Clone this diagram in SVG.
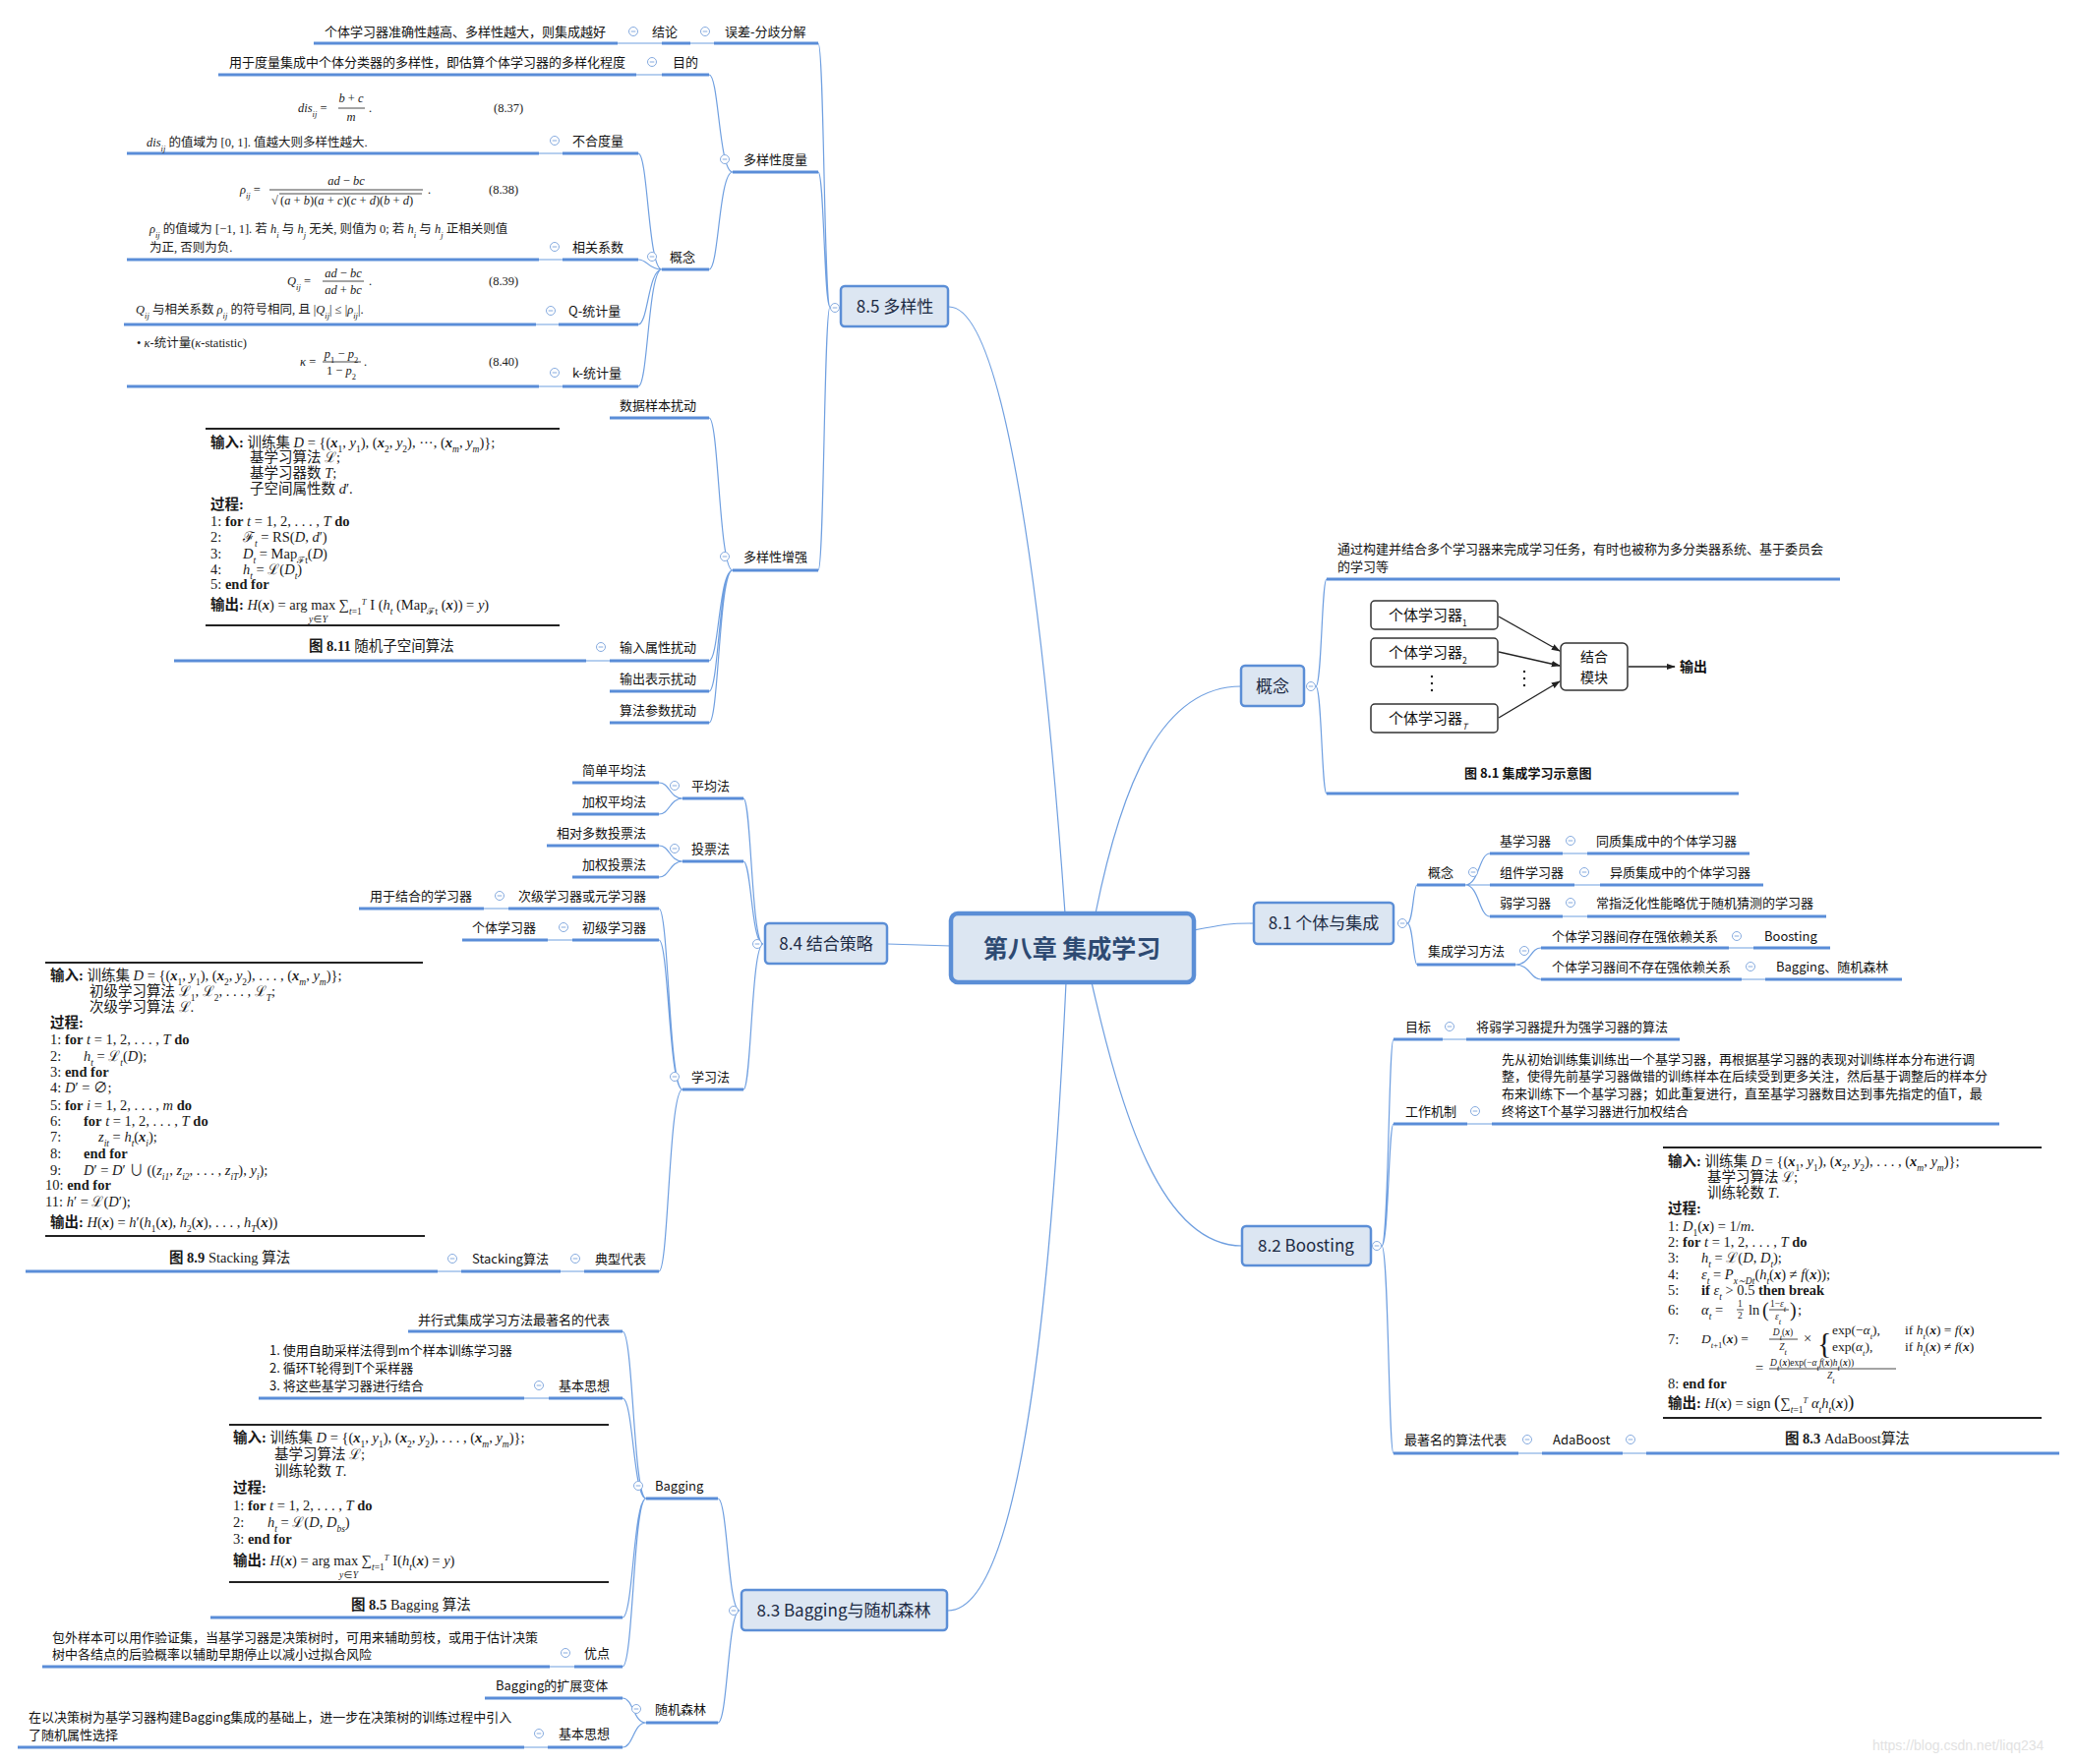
<svg xmlns="http://www.w3.org/2000/svg" xmlns:xlink="http://www.w3.org/1999/xlink" width="2111" height="1794" viewBox="0 0 2111 1794">
<style>
.lbl{font-family:"Noto Sans CJK SC","Noto Sans",sans-serif;font-size:13px;fill:#111}
.main{font-family:"Noto Sans CJK SC","Noto Sans",sans-serif;font-size:17px;fill:#1d2b44;text-anchor:middle}
.root{font-family:"Noto Sans CJK SC",sans-serif;font-size:25px;font-weight:bold;fill:#2e4a72;text-anchor:middle}
.box{fill:#dce6f2;stroke:#5b8ed6;stroke-width:2.5}
.ul{stroke:#5a8dd8;stroke-width:3;fill:none}
.cn{stroke:#6f9fe0;stroke-width:1.2;fill:none}
.m{font-family:"Liberation Serif","Noto Sans CJK SC",serif;font-size:12.5px;fill:#1a1a1a}
.a{font-size:14.5px}
.sm{font-size:9.5px}
.i{font-style:italic}
.b{font-weight:bold}
.s{font-size:8.5px;baseline-shift:sub}
.a .s{font-size:9.5px}
.sp{font-size:8.5px;baseline-shift:super}
.rule{stroke:#222;stroke-width:2}
.bar{stroke:#1a1a1a;stroke-width:0.8}
.fig{font-family:"Noto Sans CJK SC",serif;fill:#111}
.fb{fill:#fff;stroke:#333;stroke-width:1.5}
.ar{stroke:#222;stroke-width:1.3;fill:none;marker-end:url(#arr)}
.wm{font-family:"Liberation Sans",sans-serif;font-size:14px;fill:#e2e2e2}
</style>
<defs>
<g id="mk"><circle r="4.5" fill="#fff" stroke="#86abdf" stroke-width="1"/><path d="M-2.3,0H2.3" stroke="#86abdf" stroke-width="1"/></g>
<marker id="arr" viewBox="0 0 10 10" refX="9" refY="5" markerWidth="7" markerHeight="7" orient="auto"><path d="M0,1.5L10,5L0,8.5z" fill="#222"/></marker>
</defs>
<rect width="2111" height="1794" fill="#fff"/>

<g id="connectors">
<path class="cn" d="M1083,929 C1060,600 1020,312 965,312"/>
<path class="cn" d="M967,962 L902,960"/>
<path class="cn" d="M1214,946 C1245,940 1250,939 1275,939"/>
<path class="cn" d="M1114,929 C1140,800 1180,698 1262,698"/>
<path class="cn" d="M1110,999 C1140,1130 1180,1267 1263,1267"/>
<path class="cn" d="M1084,999 C1070,1300 1040,1638 964,1638"/>
<path class="cn" d="M844,312 C838,312 838,44 832,44 M844,312 C838,312 838,175 832,175 M844,312 C838,312 838,580 832,580"/>
<path class="cn" d="M726,44 H702 M673,44 H628"/>
<path class="cn" d="M745,175 C731,175 731,76 721,76 M745,175 C731,175 731,274 721,274 M673,76 H647"/>
<path class="cn" d="M673,274 C659,274 659,156 649,156 M673,274 C659,274 659,264 649,264 M673,274 C659,274 659,330 649,330 M673,274 C659,274 659,393 649,393"/>
<path class="cn" d="M572,156 H548 M572,264 H548 M568,330 H545 M572,393 H548"/>
<path class="cn" d="M745,580 C731,580 731,425 721,425 M745,580 C731,580 731,672 721,672 M745,580 C731,580 731,703 721,703 M745,580 C731,580 731,735 721,735 M620,672 H596"/>
<path class="cn" d="M776,960 C764,960 764,812 756,812 M776,960 C764,960 764,876 756,876 M776,960 C764,960 764,1108 756,1108"/>
<path class="cn" d="M694,812 C681,812 681,796 670,796 M694,812 C681,812 681,828 670,828 M694,876 C681,876 681,860 670,860 M694,876 C681,876 681,892 670,892"/>
<path class="cn" d="M694,1108 C680,1108 680,924 670,924 M694,1108 C680,1108 680,956 670,956 M694,1108 C680,1108 680,1293 670,1293"/>
<path class="cn" d="M517,924 H492 M582,956 H557 M594,1293 H570 M469,1293 H445"/>
<path class="cn" d="M752,1638 C740,1638 740,1524 730,1524 M752,1638 C740,1638 740,1752 730,1752"/>
<path class="cn" d="M657,1524 C644,1524 644,1354 633,1354 M657,1524 C644,1524 644,1422 633,1422 M657,1524 C644,1524 644,1645 633,1645 M657,1524 C644,1524 644,1695 633,1695 M558,1422 H533 M584,1695 H559"/>
<path class="cn" d="M657,1752 C644,1752 644,1727 633,1727 M657,1752 C644,1752 644,1777 633,1777 M557,1777 H533"/>
<path class="cn" d="M1338,698 C1344,698 1344,589 1349,589 M1338,698 C1344,698 1344,807 1349,807"/>
<path class="cn" d="M1431,939 C1437,939 1437,900 1441,900 M1431,939 C1437,939 1437,981 1441,981"/>
<path class="cn" d="M1490,900 C1504,900 1504,868 1515,868 M1490,900 H1515 M1490,900 C1504,900 1504,932 1515,932 M1589,868 H1614 M1601,900 H1627 M1589,932 H1614"/>
<path class="cn" d="M1541,981 C1556,981 1556,964 1567,964 M1541,981 C1556,981 1556,996 1567,996 M1758,964 H1783 M1771,996 H1795"/>
<path class="cn" d="M1405,1267 C1412,1267 1412,1057 1417,1057 M1405,1267 C1412,1267 1412,1143 1417,1143 M1405,1267 C1412,1267 1412,1478 1417,1478"/>
<path class="cn" d="M1467,1057 H1491 M1492,1143 H1517 M1544,1478 H1568 M1650,1478 H1674"/>
</g>

<g id="root">
<rect x="967" y="929" width="247" height="70" rx="7" fill="#dce6f2" stroke="#5b8ed6" stroke-width="4.5"/>
<text class="root" x="1090" y="974">第八章 集成学习</text>
</g>

<!-- 8.5 -->
<g id="n85">
<rect class="box" x="855" y="291" width="109" height="41" rx="4"/>
<text class="main" x="910" y="318">8.5 多样性</text>
<use xlink:href="#mk" x="849" y="313"/>
</g>
<g id="n85-conclusion">
<line class="ul" x1="726" y1="44" x2="832" y2="44"/><text class="lbl" x="737" y="37">误差-分歧分解</text><use xlink:href="#mk" x="717" y="32"/>
<line class="ul" x1="673" y1="44" x2="702" y2="44"/><text class="lbl" x="663" y="37">结论</text><use xlink:href="#mk" x="644" y="32"/>
<line class="ul" x1="319" y1="44" x2="628" y2="44"/><text class="lbl" x="330" y="37">个体学习器准确性越高、多样性越大，则集成越好</text>
</g>
<g id="n85-measure">
<line class="ul" x1="745" y1="175" x2="832" y2="175"/><text class="lbl" x="756" y="167">多样性度量</text><use xlink:href="#mk" x="737" y="162"/>
<line class="ul" x1="673" y1="76" x2="721" y2="76"/><text class="lbl" x="684" y="68">目的</text><use xlink:href="#mk" x="663" y="63"/>
<line class="ul" x1="222" y1="76" x2="647" y2="76"/><text class="lbl" x="233" y="68">用于度量集成中个体分类器的多样性，即估算个体学习器的多样化程度</text>
<line class="ul" x1="673" y1="274" x2="721" y2="274"/><text class="lbl" x="681" y="266">概念</text><use xlink:href="#mk" x="663" y="261"/>
</g>
<g id="n85-dis">
<line class="ul" x1="572" y1="156" x2="649" y2="156"/><text class="lbl" x="582" y="148">不合度量</text><use xlink:href="#mk" x="564" y="143"/>
<line class="ul" x1="129" y1="156" x2="548" y2="156"/>
<text class="m" x="303" y="114"><tspan class="i">dis</tspan><tspan class="s i">ij</tspan> =</text>
<text class="m" x="357" y="104" text-anchor="middle"><tspan class="i">b</tspan> + <tspan class="i">c</tspan></text>
<line class="bar" x1="344" y1="110" x2="371" y2="110"/>
<text class="m i" x="357" y="123" text-anchor="middle">m</text>
<text class="m" x="375" y="114">.</text>
<text class="m" x="502" y="114">(8.37)</text>
<text class="m" x="149" y="149"><tspan class="i">dis</tspan><tspan class="s i">ij</tspan> 的值域为 [0, 1]. 值越大则多样性越大.</text>
</g>
<g id="n85-rho">
<line class="ul" x1="572" y1="264" x2="649" y2="264"/><text class="lbl" x="582" y="256">相关系数</text><use xlink:href="#mk" x="564" y="251"/>
<line class="ul" x1="129" y1="264" x2="548" y2="264"/>
<text class="m" x="244" y="197"><tspan class="i">ρ</tspan><tspan class="s i">ij</tspan> =</text>
<text class="m" x="352" y="188" text-anchor="middle"><tspan class="i">ad</tspan> − <tspan class="i">bc</tspan></text>
<line class="bar" x1="274" y1="193" x2="430" y2="193"/>
<text class="m" x="276" y="208">√</text>
<line class="bar" x1="284" y1="197" x2="429" y2="197"/>
<text class="m" x="285" y="208">(<tspan class="i">a</tspan> + <tspan class="i">b</tspan>)(<tspan class="i">a</tspan> + <tspan class="i">c</tspan>)(<tspan class="i">c</tspan> + <tspan class="i">d</tspan>)(<tspan class="i">b</tspan> + <tspan class="i">d</tspan>)</text>
<text class="m" x="435" y="197">.</text>
<text class="m" x="497" y="197">(8.38)</text>
<text class="m" x="152" y="237"><tspan class="i">ρ</tspan><tspan class="s i">ij</tspan> 的值域为 [−1, 1]. 若 <tspan class="i">h</tspan><tspan class="s i">i</tspan> 与 <tspan class="i">h</tspan><tspan class="s i">j</tspan> 无关, 则值为 0; 若 <tspan class="i">h</tspan><tspan class="s i">i</tspan> 与 <tspan class="i">h</tspan><tspan class="s i">j</tspan> 正相关则值</text>
<text class="m" x="152" y="256">为正, 否则为负.</text>
</g>
<g id="n85-q">
<line class="ul" x1="568" y1="330" x2="649" y2="330"/><text class="lbl" x="578" y="321">Q-统计量</text><use xlink:href="#mk" x="560" y="316"/>
<line class="ul" x1="126" y1="330" x2="545" y2="330"/>
<text class="m" x="292" y="290"><tspan class="i">Q</tspan><tspan class="s i">ij</tspan> =</text>
<text class="m" x="349" y="282" text-anchor="middle"><tspan class="i">ad</tspan> − <tspan class="i">bc</tspan></text>
<line class="bar" x1="328" y1="286" x2="370" y2="286"/>
<text class="m" x="349" y="299" text-anchor="middle"><tspan class="i">ad</tspan> + <tspan class="i">bc</tspan></text>
<text class="m" x="375" y="290">.</text>
<text class="m" x="497" y="290">(8.39)</text>
<text class="m" x="138" y="319"><tspan class="i">Q</tspan><tspan class="s i">ij</tspan> 与相关系数 <tspan class="i">ρ</tspan><tspan class="s i">ij</tspan> 的符号相同, 且 |<tspan class="i">Q</tspan><tspan class="s i">ij</tspan>| ≤ |<tspan class="i">ρ</tspan><tspan class="s i">ij</tspan>|.</text>
</g>
<g id="n85-k">
<line class="ul" x1="572" y1="393" x2="649" y2="393"/><text class="lbl" x="582" y="384">k-统计量</text><use xlink:href="#mk" x="564" y="379"/>
<line class="ul" x1="129" y1="393" x2="548" y2="393"/>
<text class="m" x="139" y="353">• <tspan class="i">κ</tspan>-统计量(<tspan class="i">κ</tspan>-statistic)</text>
<text class="m" x="305" y="372"><tspan class="i">κ</tspan> =</text>
<text class="m" x="347" y="364" text-anchor="middle"><tspan class="i">p</tspan><tspan class="s">1</tspan> − <tspan class="i">p</tspan><tspan class="s">2</tspan></text>
<line class="bar" x1="328" y1="368" x2="367" y2="368"/>
<text class="m" x="347" y="381" text-anchor="middle">1 − <tspan class="i">p</tspan><tspan class="s">2</tspan></text>
<text class="m" x="370" y="372">.</text>
<text class="m" x="497" y="372">(8.40)</text>
</g>
<g id="n85-enhance">
<line class="ul" x1="745" y1="580" x2="832" y2="580"/><text class="lbl" x="756" y="571">多样性增强</text><use xlink:href="#mk" x="737" y="566"/>
<line class="ul" x1="620" y1="425" x2="721" y2="425"/><text class="lbl" x="630" y="417">数据样本扰动</text>
<line class="ul" x1="620" y1="672" x2="721" y2="672"/><text class="lbl" x="630" y="663">输入属性扰动</text><use xlink:href="#mk" x="611" y="658"/>
<line class="ul" x1="620" y1="703" x2="721" y2="703"/><text class="lbl" x="630" y="695">输出表示扰动</text>
<line class="ul" x1="620" y1="735" x2="721" y2="735"/><text class="lbl" x="630" y="727">算法参数扰动</text>
</g>
<g id="fig811">
<line class="ul" x1="177" y1="672" x2="596" y2="672"/>
<line class="rule" x1="209" y1="436" x2="569" y2="436"/>
<line class="rule" x1="209" y1="636" x2="569" y2="636"/>
<text class="m a" x="214" y="455"><tspan class="b">输入:</tspan> 训练集 <tspan class="i">D</tspan> = {(<tspan class="i b">x</tspan><tspan class="s">1</tspan>, <tspan class="i">y</tspan><tspan class="s">1</tspan>), (<tspan class="i b">x</tspan><tspan class="s">2</tspan>, <tspan class="i">y</tspan><tspan class="s">2</tspan>), ···, (<tspan class="i b">x</tspan><tspan class="s i">m</tspan>, <tspan class="i">y</tspan><tspan class="s i">m</tspan>)};</text>
<text class="m a" x="254" y="470">基学习算法 ℒ;</text>
<text class="m a" x="254" y="486">基学习器数 <tspan class="i">T</tspan>;</text>
<text class="m a" x="254" y="502">子空间属性数 <tspan class="i">d</tspan>′.</text>
<text class="m a b" x="214" y="518">过程:</text>
<text class="m a" x="214" y="535">1: <tspan class="b">for</tspan> <tspan class="i">t</tspan> = 1, 2, . . . , <tspan class="i">T</tspan> <tspan class="b">do</tspan></text>
<text class="m a" x="214" y="551">2:</text><text class="m a" x="247" y="551">ℱ<tspan class="s i">t</tspan> = RS(<tspan class="i">D</tspan>, <tspan class="i">d</tspan>′)</text>
<text class="m a" x="214" y="568">3:</text><text class="m a" x="247" y="568"><tspan class="i">D</tspan><tspan class="s i">t</tspan> = Map<tspan class="s">ℱt</tspan>(<tspan class="i">D</tspan>)</text>
<text class="m a" x="214" y="584">4:</text><text class="m a" x="247" y="584"><tspan class="i">h</tspan><tspan class="s i">t</tspan> = ℒ(<tspan class="i">D</tspan><tspan class="s i">t</tspan>)</text>
<text class="m a" x="214" y="599">5: <tspan class="b">end for</tspan></text>
<text class="m a" x="214" y="620"><tspan class="b">输出:</tspan> <tspan class="i">H</tspan>(<tspan class="i b">x</tspan>) = arg max ∑<tspan class="s i">t</tspan><tspan class="s">=1</tspan><tspan class="sp i">T</tspan> I (<tspan class="i">h</tspan><tspan class="s i">t</tspan> (Map<tspan class="s">ℱt</tspan> (<tspan class="i b">x</tspan>)) = <tspan class="i">y</tspan>)</text>
<text class="m sm" x="314" y="633"><tspan class="i">y</tspan>∈<tspan class="i">Y</tspan></text>
<text class="m a" x="314" y="662"><tspan class="b">图 8.11</tspan>   随机子空间算法</text>
</g>

<!-- 8.4 -->
<g id="n84">
<rect class="box" x="778" y="939" width="124" height="41" rx="4"/>
<text class="main" x="840" y="966">8.4 结合策略</text>
<use xlink:href="#mk" x="770" y="960"/>
</g>
<g id="n84-avg">
<line class="ul" x1="694" y1="812" x2="756" y2="812"/><text class="lbl" x="703" y="804">平均法</text><use xlink:href="#mk" x="686" y="799"/>
<line class="ul" x1="582" y1="796" x2="670" y2="796"/><text class="lbl" x="592" y="788">简单平均法</text>
<line class="ul" x1="582" y1="828" x2="670" y2="828"/><text class="lbl" x="592" y="820">加权平均法</text>
</g>
<g id="n84-vote">
<line class="ul" x1="694" y1="876" x2="756" y2="876"/><text class="lbl" x="703" y="868">投票法</text><use xlink:href="#mk" x="686" y="863"/>
<line class="ul" x1="556" y1="860" x2="670" y2="860"/><text class="lbl" x="566" y="852">相对多数投票法</text>
<line class="ul" x1="582" y1="892" x2="670" y2="892"/><text class="lbl" x="592" y="884">加权投票法</text>
</g>
<g id="n84-learn">
<line class="ul" x1="694" y1="1108" x2="756" y2="1108"/><text class="lbl" x="703" y="1100">学习法</text><use xlink:href="#mk" x="686" y="1095"/>
<line class="ul" x1="517" y1="924" x2="670" y2="924"/><text class="lbl" x="527" y="916">次级学习器或元学习器</text><use xlink:href="#mk" x="508" y="911"/>
<line class="ul" x1="365" y1="924" x2="492" y2="924"/><text class="lbl" x="376" y="916">用于结合的学习器</text>
<line class="ul" x1="582" y1="956" x2="670" y2="956"/><text class="lbl" x="592" y="948">初级学习器</text><use xlink:href="#mk" x="573" y="943"/>
<line class="ul" x1="470" y1="956" x2="557" y2="956"/><text class="lbl" x="480" y="948">个体学习器</text>
<line class="ul" x1="594" y1="1293" x2="670" y2="1293"/><text class="lbl" x="605" y="1285">典型代表</text><use xlink:href="#mk" x="585" y="1280"/>
<line class="ul" x1="469" y1="1293" x2="570" y2="1293"/><text class="lbl" x="480" y="1285">Stacking算法</text><use xlink:href="#mk" x="460" y="1280"/>
</g>
<g id="fig89">
<line class="ul" x1="26" y1="1293" x2="445" y2="1293"/>
<line class="rule" x1="46" y1="979" x2="430" y2="979"/>
<line class="rule" x1="46" y1="1257" x2="432" y2="1257"/>
<text class="m a" x="51" y="997"><tspan class="b">输入:</tspan> 训练集 <tspan class="i">D</tspan> = {(<tspan class="i b">x</tspan><tspan class="s">1</tspan>, <tspan class="i">y</tspan><tspan class="s">1</tspan>), (<tspan class="i b">x</tspan><tspan class="s">2</tspan>, <tspan class="i">y</tspan><tspan class="s">2</tspan>), . . . , (<tspan class="i b">x</tspan><tspan class="s i">m</tspan>, <tspan class="i">y</tspan><tspan class="s i">m</tspan>)};</text>
<text class="m a" x="91" y="1013">初级学习算法 ℒ<tspan class="s">1</tspan>, ℒ<tspan class="s">2</tspan>, . . . , ℒ<tspan class="s i">T</tspan>;</text>
<text class="m a" x="91" y="1029">次级学习算法 ℒ.</text>
<text class="m a b" x="51" y="1045">过程:</text>
<text class="m a" x="51" y="1062">1: <tspan class="b">for</tspan> <tspan class="i">t</tspan> = 1, 2, . . . , <tspan class="i">T</tspan>  <tspan class="b">do</tspan></text>
<text class="m a" x="51" y="1079">2:</text><text class="m a" x="85" y="1079"><tspan class="i">h</tspan><tspan class="s i">t</tspan> = ℒ<tspan class="s i">t</tspan>(<tspan class="i">D</tspan>);</text>
<text class="m a" x="51" y="1095">3: <tspan class="b">end for</tspan></text>
<text class="m a" x="51" y="1111">4: <tspan class="i">D</tspan>′ = ∅;</text>
<text class="m a" x="51" y="1129">5: <tspan class="b">for</tspan> <tspan class="i">i</tspan> = 1, 2, . . . , <tspan class="i">m</tspan> <tspan class="b">do</tspan></text>
<text class="m a" x="51" y="1145">6:</text><text class="m a" x="85" y="1145"><tspan class="b">for</tspan> <tspan class="i">t</tspan> = 1, 2, . . . , <tspan class="i">T</tspan> <tspan class="b">do</tspan></text>
<text class="m a" x="51" y="1161">7:</text><text class="m a" x="100" y="1161"><tspan class="i">z</tspan><tspan class="s i">it</tspan> = <tspan class="i">h</tspan><tspan class="s i">t</tspan>(<tspan class="i b">x</tspan><tspan class="s i">i</tspan>);</text>
<text class="m a" x="51" y="1178">8:</text><text class="m a b" x="85" y="1178">end for</text>
<text class="m a" x="51" y="1195">9:</text><text class="m a" x="85" y="1195"><tspan class="i">D</tspan>′ = <tspan class="i">D</tspan>′ ∪ ((<tspan class="i">z</tspan><tspan class="s i">i1</tspan>, <tspan class="i">z</tspan><tspan class="s i">i2</tspan>, . . . , <tspan class="i">z</tspan><tspan class="s i">iT</tspan>), <tspan class="i">y</tspan><tspan class="s i">i</tspan>);</text>
<text class="m a" x="46" y="1210">10: <tspan class="b">end for</tspan></text>
<text class="m a" x="46" y="1227">11: <tspan class="i">h</tspan>′ = ℒ(<tspan class="i">D</tspan>′);</text>
<text class="m a" x="51" y="1248"><tspan class="b">输出:</tspan> <tspan class="i">H</tspan>(<tspan class="i b">x</tspan>) = <tspan class="i">h</tspan>′(<tspan class="i">h</tspan><tspan class="s">1</tspan>(<tspan class="i b">x</tspan>), <tspan class="i">h</tspan><tspan class="s">2</tspan>(<tspan class="i b">x</tspan>), . . . , <tspan class="i">h</tspan><tspan class="s i">T</tspan>(<tspan class="i b">x</tspan>))</text>
<text class="m a" x="172" y="1284"><tspan class="b">图 8.9</tspan>   Stacking 算法</text>
</g>

<!-- 8.3 -->
<g id="n83">
<rect class="box" x="754" y="1617" width="209" height="41" rx="4"/>
<text class="main" x="858" y="1644">8.3 Bagging与随机森林</text>
<use xlink:href="#mk" x="746" y="1638"/>
</g>
<g id="n83-bagging">
<line class="ul" x1="657" y1="1524" x2="730" y2="1524"/><text class="lbl" x="666" y="1516">Bagging</text><use xlink:href="#mk" x="649" y="1511"/>
<line class="ul" x1="415" y1="1354" x2="633" y2="1354"/><text class="lbl" x="425" y="1347">并行式集成学习方法最著名的代表</text>
<line class="ul" x1="558" y1="1422" x2="633" y2="1422"/><text class="lbl" x="568" y="1414">基本思想</text><use xlink:href="#mk" x="548" y="1409"/>
<line class="ul" x1="263" y1="1422" x2="533" y2="1422"/>
<text class="lbl" x="274" y="1378">1. 使用自助采样法得到m个样本训练学习器</text>
<text class="lbl" x="274" y="1396">2. 循环T轮得到T个采样器</text>
<text class="lbl" x="274" y="1414">3. 将这些基学习器进行结合</text>
<line class="ul" x1="584" y1="1695" x2="633" y2="1695"/><text class="lbl" x="594" y="1686">优点</text><use xlink:href="#mk" x="575" y="1681"/>
<line class="ul" x1="43" y1="1695" x2="559" y2="1695"/>
<text class="lbl" x="53" y="1670">包外样本可以用作验证集，当基学习器是决策树时，可用来辅助剪枝，或用于估计决策</text>
<text class="lbl" x="53" y="1687">树中各结点的后验概率以辅助早期停止以减小过拟合风险</text>
</g>
<g id="fig85">
<line class="ul" x1="214" y1="1645" x2="633" y2="1645"/>
<line class="rule" x1="233" y1="1449" x2="619" y2="1449"/>
<line class="rule" x1="233" y1="1609" x2="619" y2="1609"/>
<text class="m a" x="237" y="1467"><tspan class="b">输入:</tspan> 训练集 <tspan class="i">D</tspan> = {(<tspan class="i b">x</tspan><tspan class="s">1</tspan>, <tspan class="i">y</tspan><tspan class="s">1</tspan>), (<tspan class="i b">x</tspan><tspan class="s">2</tspan>, <tspan class="i">y</tspan><tspan class="s">2</tspan>), . . . , (<tspan class="i b">x</tspan><tspan class="s i">m</tspan>, <tspan class="i">y</tspan><tspan class="s i">m</tspan>)};</text>
<text class="m a" x="279" y="1484">基学习算法 ℒ;</text>
<text class="m a" x="279" y="1501">训练轮数 <tspan class="i">T</tspan>.</text>
<text class="m a b" x="237" y="1518">过程:</text>
<text class="m a" x="237" y="1536">1: <tspan class="b">for</tspan> <tspan class="i">t</tspan> = 1, 2, . . . , <tspan class="i">T</tspan> <tspan class="b">do</tspan></text>
<text class="m a" x="237" y="1553">2:</text><text class="m a" x="272" y="1553"><tspan class="i">h</tspan><tspan class="s i">t</tspan> = ℒ(<tspan class="i">D</tspan>, <tspan class="i">D</tspan><tspan class="s i">bs</tspan>)</text>
<text class="m a" x="237" y="1570">3: <tspan class="b">end for</tspan></text>
<text class="m a" x="237" y="1592"><tspan class="b">输出:</tspan> <tspan class="i">H</tspan>(<tspan class="i b">x</tspan>) = arg max ∑<tspan class="s i">t</tspan><tspan class="s">=1</tspan><tspan class="sp i">T</tspan> I(<tspan class="i">h</tspan><tspan class="s i">t</tspan>(<tspan class="i b">x</tspan>) = <tspan class="i">y</tspan>)</text>
<text class="m sm" x="345" y="1605"><tspan class="i">y</tspan>∈<tspan class="i">Y</tspan></text>
<text class="m a" x="357" y="1637"><tspan class="b">图 8.5</tspan>   Bagging 算法</text>
</g>
<g id="n83-rf">
<line class="ul" x1="657" y1="1752" x2="730" y2="1752"/><text class="lbl" x="666" y="1743">随机森林</text><use xlink:href="#mk" x="647" y="1738"/>
<line class="ul" x1="493" y1="1727" x2="633" y2="1727"/><text class="lbl" x="504" y="1719">Bagging的扩展变体</text>
<line class="ul" x1="557" y1="1777" x2="633" y2="1777"/><text class="lbl" x="568" y="1768">基本思想</text><use xlink:href="#mk" x="548" y="1763"/>
<line class="ul" x1="18" y1="1777" x2="533" y2="1777"/>
<text class="lbl" x="29" y="1751">在以决策树为基学习器构建Bagging集成的基础上，进一步在决策树的训练过程中引入</text>
<text class="lbl" x="29" y="1769">了随机属性选择</text>
</g>

<!-- right: 概念 -->
<g id="nconcept">
<rect class="box" x="1262" y="677" width="64" height="41" rx="4"/>
<text class="main" x="1294" y="704">概念</text>
<use xlink:href="#mk" x="1333" y="698"/>
<line class="ul" x1="1349" y1="589" x2="1871" y2="589"/>
<text class="lbl" x="1360" y="563">通过构建并结合多个学习器来完成学习任务，有时也被称为多分类器系统、基于委员会</text>
<text class="lbl" x="1360" y="581">的学习等</text>
</g>
<g id="fig81">
<line class="ul" x1="1349" y1="807" x2="1768" y2="807"/>
<rect class="fb" x="1394" y="611" width="129" height="29" rx="4"/>
<rect class="fb" x="1394" y="649" width="129" height="29" rx="4"/>
<rect class="fb" x="1394" y="716" width="129" height="29" rx="4"/>
<rect class="fb" x="1587" y="654" width="68" height="48" rx="5"/>
<text class="fig" x="1412" y="631" style="font-size:15px">个体学习器<tspan class="s">1</tspan></text>
<text class="fig" x="1412" y="669" style="font-size:15px">个体学习器<tspan class="s">2</tspan></text>
<text class="fig" x="1412" y="736" style="font-size:15px">个体学习器<tspan class="s i">T</tspan></text>
<text class="fig" x="1621" y="673" style="font-size:14px;text-anchor:middle">结合</text>
<text class="fig" x="1621" y="694" style="font-size:14px;text-anchor:middle">模块</text>
<circle cx="1456" cy="688" r="1.2" fill="#222"/><circle cx="1456" cy="695" r="1.2" fill="#222"/><circle cx="1456" cy="702" r="1.2" fill="#222"/>
<circle cx="1550" cy="683" r="1.2" fill="#222"/><circle cx="1550" cy="690" r="1.2" fill="#222"/><circle cx="1550" cy="697" r="1.2" fill="#222"/>
<path class="ar" d="M1524,627 L1586,662"/>
<path class="ar" d="M1524,663 L1586,677"/>
<path class="ar" d="M1524,730 L1586,693"/>
<path class="ar" d="M1656,678 L1703,678"/>
<text class="fig" x="1708" y="683" style="font-size:14px;font-weight:bold">输出</text>
<text class="fig" x="1489" y="791" style="font-size:13px;font-weight:bold">图 8.1   集成学习示意图</text>
</g>

<!-- 8.1 -->
<g id="n81">
<rect class="box" x="1275" y="918" width="142" height="42" rx="4"/>
<text class="main" x="1346" y="945">8.1 个体与集成</text>
<use xlink:href="#mk" x="1426" y="939"/>
</g>
<g id="n81-concept">
<line class="ul" x1="1441" y1="900" x2="1490" y2="900"/><text class="lbl" x="1452" y="892">概念</text><use xlink:href="#mk" x="1498" y="887"/>
<line class="ul" x1="1515" y1="868" x2="1589" y2="868"/><text class="lbl" x="1525" y="860">基学习器</text><use xlink:href="#mk" x="1597" y="855"/>
<line class="ul" x1="1614" y1="868" x2="1779" y2="868"/><text class="lbl" x="1623" y="860">同质集成中的个体学习器</text>
<line class="ul" x1="1515" y1="900" x2="1601" y2="900"/><text class="lbl" x="1525" y="892">组件学习器</text><use xlink:href="#mk" x="1611" y="887"/>
<line class="ul" x1="1627" y1="900" x2="1793" y2="900"/><text class="lbl" x="1637" y="892">异质集成中的个体学习器</text>
<line class="ul" x1="1515" y1="932" x2="1589" y2="932"/><text class="lbl" x="1525" y="923">弱学习器</text><use xlink:href="#mk" x="1597" y="918"/>
<line class="ul" x1="1614" y1="932" x2="1857" y2="932"/><text class="lbl" x="1623" y="923">常指泛化性能略优于随机猜测的学习器</text>
</g>
<g id="n81-method">
<line class="ul" x1="1441" y1="981" x2="1541" y2="981"/><text class="lbl" x="1452" y="972">集成学习方法</text><use xlink:href="#mk" x="1550" y="967"/>
<line class="ul" x1="1567" y1="964" x2="1758" y2="964"/><text class="lbl" x="1578" y="957">个体学习器间存在强依赖关系</text><use xlink:href="#mk" x="1766" y="952"/>
<line class="ul" x1="1783" y1="964" x2="1861" y2="964"/><text class="lbl" x="1794" y="957">Boosting</text>
<line class="ul" x1="1567" y1="996" x2="1771" y2="996"/><text class="lbl" x="1578" y="988">个体学习器间不存在强依赖关系</text><use xlink:href="#mk" x="1780" y="983"/>
<line class="ul" x1="1795" y1="996" x2="1934" y2="996"/><text class="lbl" x="1806" y="988">Bagging、随机森林</text>
</g>

<!-- 8.2 -->
<g id="n82">
<rect class="box" x="1263" y="1247" width="131" height="40" rx="4"/>
<text class="main" x="1328" y="1273">8.2 Boosting</text>
<use xlink:href="#mk" x="1400" y="1267"/>
</g>
<g id="n82-goal">
<line class="ul" x1="1417" y1="1057" x2="1467" y2="1057"/><text class="lbl" x="1429" y="1049">目标</text><use xlink:href="#mk" x="1474" y="1044"/>
<line class="ul" x1="1491" y1="1057" x2="1708" y2="1057"/><text class="lbl" x="1501" y="1049">将弱学习器提升为强学习器的算法</text>
</g>
<g id="n82-mech">
<line class="ul" x1="1417" y1="1143" x2="1492" y2="1143"/><text class="lbl" x="1429" y="1135">工作机制</text><use xlink:href="#mk" x="1500" y="1130"/>
<line class="ul" x1="1517" y1="1143" x2="2033" y2="1143"/>
<text class="lbl" x="1527" y="1082">先从初始训练集训练出一个基学习器，再根据基学习器的表现对训练样本分布进行调</text>
<text class="lbl" x="1527" y="1099">整，使得先前基学习器做错的训练样本在后续受到更多关注，然后基于调整后的样本分</text>
<text class="lbl" x="1527" y="1117">布来训练下一个基学习器；如此重复进行，直至基学习器数目达到事先指定的值T，最</text>
<text class="lbl" x="1527" y="1135">终将这T个基学习器进行加权结合</text>
</g>
<g id="n82-rep">
<line class="ul" x1="1417" y1="1478" x2="1544" y2="1478"/><text class="lbl" x="1428" y="1469">最著名的算法代表</text><use xlink:href="#mk" x="1553" y="1464"/>
<line class="ul" x1="1568" y1="1478" x2="1650" y2="1478"/><text class="lbl" x="1579" y="1469">AdaBoost</text><use xlink:href="#mk" x="1658" y="1464"/>
</g>
<g id="fig83">
<line class="ul" x1="1674" y1="1478" x2="2094" y2="1478"/>
<line class="rule" x1="1691" y1="1167" x2="2076" y2="1167"/>
<line class="rule" x1="1691" y1="1442" x2="2076" y2="1442"/>
<text class="m a" x="1696" y="1186"><tspan class="b">输入:</tspan> 训练集 <tspan class="i">D</tspan> = {(<tspan class="i b">x</tspan><tspan class="s">1</tspan>, <tspan class="i">y</tspan><tspan class="s">1</tspan>), (<tspan class="i b">x</tspan><tspan class="s">2</tspan>, <tspan class="i">y</tspan><tspan class="s">2</tspan>), . . . , (<tspan class="i b">x</tspan><tspan class="s i">m</tspan>, <tspan class="i">y</tspan><tspan class="s i">m</tspan>)};</text>
<text class="m a" x="1736" y="1202">基学习算法 ℒ;</text>
<text class="m a" x="1736" y="1218">训练轮数 <tspan class="i">T</tspan>.</text>
<text class="m a b" x="1696" y="1234">过程:</text>
<text class="m a" x="1696" y="1252">1: <tspan class="i">D</tspan><tspan class="s">1</tspan>(<tspan class="i b">x</tspan>) = 1/<tspan class="i">m</tspan>.</text>
<text class="m a" x="1696" y="1268">2: <tspan class="b">for</tspan> <tspan class="i">t</tspan> = 1, 2, . . . , <tspan class="i">T</tspan>  <tspan class="b">do</tspan></text>
<text class="m a" x="1696" y="1284">3:</text><text class="m a" x="1730" y="1284"><tspan class="i">h</tspan><tspan class="s i">t</tspan> = ℒ(<tspan class="i">D</tspan>, <tspan class="i">D</tspan><tspan class="s i">t</tspan>);</text>
<text class="m a" x="1696" y="1301">4:</text><text class="m a" x="1730" y="1301"><tspan class="i">ε</tspan><tspan class="s i">t</tspan> = <tspan class="i">P</tspan><tspan class="s i">x∼Dt</tspan>(<tspan class="i">h</tspan><tspan class="s i">t</tspan>(<tspan class="i b">x</tspan>) ≠ <tspan class="i">f</tspan>(<tspan class="i b">x</tspan>));</text>
<text class="m a" x="1696" y="1317">5:</text><text class="m a" x="1730" y="1317"><tspan class="b">if</tspan> <tspan class="i">ε</tspan><tspan class="s i">t</tspan> > 0.5 <tspan class="b">then break</tspan></text>
<text class="m a" x="1696" y="1337">6:</text><text class="m a" x="1730" y="1337"><tspan class="i">α</tspan><tspan class="s i">t</tspan> =</text>
<text class="m sm" x="1767" y="1329">1</text><line class="bar" x1="1766" y1="1332" x2="1773" y2="1332"/><text class="m sm" x="1767" y="1341">2</text>
<text class="m a" x="1778" y="1337">ln</text><text class="m" x="1792" y="1339" style="font-size:20px">(</text>
<text class="m sm" x="1800" y="1329">1−<tspan class="i">ε</tspan><tspan class="s i">t</tspan></text><line class="bar" x1="1799" y1="1332" x2="1819" y2="1332"/><text class="m sm" x="1805" y="1342"><tspan class="i">ε</tspan><tspan class="s i">t</tspan></text>
<text class="m" x="1820" y="1339" style="font-size:20px">)</text><text class="m a" x="1828" y="1337">;</text>
<text class="m a" x="1696" y="1367">7:</text>
<text class="m" x="1730" y="1366" style="font-size:13.5px"><tspan class="i">D</tspan><tspan class="s i">t</tspan><tspan class="s">+1</tspan>(<tspan class="i b">x</tspan>) =</text>
<text class="m sm" x="1813" y="1358" text-anchor="middle"><tspan class="i">D</tspan><tspan class="s i">t</tspan>(<tspan class="i b">x</tspan>)</text>
<line class="bar" x1="1799" y1="1362" x2="1828" y2="1362"/>
<text class="m sm i" x="1813" y="1373" text-anchor="middle">Z<tspan class="s">t</tspan></text>
<text class="m a" x="1834" y="1366">×</text>
<text class="m" x="1848" y="1376" style="font-size:30px">{</text>
<text class="m" x="1863" y="1357" style="font-size:13.5px">exp(−<tspan class="i">α</tspan><tspan class="s i">t</tspan>),</text>
<text class="m" x="1937" y="1357" style="font-size:13.5px">if <tspan class="i">h</tspan><tspan class="s i">t</tspan>(<tspan class="i b">x</tspan>) = <tspan class="i">f</tspan>(<tspan class="i b">x</tspan>)</text>
<text class="m" x="1863" y="1374" style="font-size:13.5px">exp(<tspan class="i">α</tspan><tspan class="s i">t</tspan>),</text>
<text class="m" x="1937" y="1374" style="font-size:13.5px">if <tspan class="i">h</tspan><tspan class="s i">t</tspan>(<tspan class="i b">x</tspan>) ≠ <tspan class="i">f</tspan>(<tspan class="i b">x</tspan>)</text>
<text class="m a" x="1785" y="1396">=</text>
<text class="m sm" x="1800" y="1389"><tspan class="i">D</tspan><tspan class="s i">t</tspan>(<tspan class="i b">x</tspan>)exp(−<tspan class="i">α</tspan><tspan class="s i">t</tspan><tspan class="i">f</tspan>(<tspan class="i b">x</tspan>)<tspan class="i">h</tspan><tspan class="s i">t</tspan>(<tspan class="i b">x</tspan>))</text>
<line class="bar" x1="1799" y1="1392" x2="1928" y2="1392"/>
<text class="m sm i" x="1858" y="1402">Z<tspan class="s">t</tspan></text>
<text class="m a" x="1696" y="1412">8: <tspan class="b">end for</tspan></text>
<text class="m a" x="1696" y="1432"><tspan class="b">输出:</tspan> <tspan class="i">H</tspan>(<tspan class="i b">x</tspan>) = sign <tspan style="font-size:19px">(</tspan>∑<tspan class="s i">t</tspan><tspan class="s">=1</tspan><tspan class="sp i">T</tspan> <tspan class="i">α</tspan><tspan class="s i">t</tspan><tspan class="i">h</tspan><tspan class="s i">t</tspan>(<tspan class="i b">x</tspan>)<tspan style="font-size:19px">)</tspan></text>
<text class="m a" x="1815" y="1468"><tspan class="b">图 8.3</tspan>   AdaBoost算法</text>
</g>

<text class="wm" x="1904" y="1780">https://blog.csdn.net/liqq234</text>
</svg>
